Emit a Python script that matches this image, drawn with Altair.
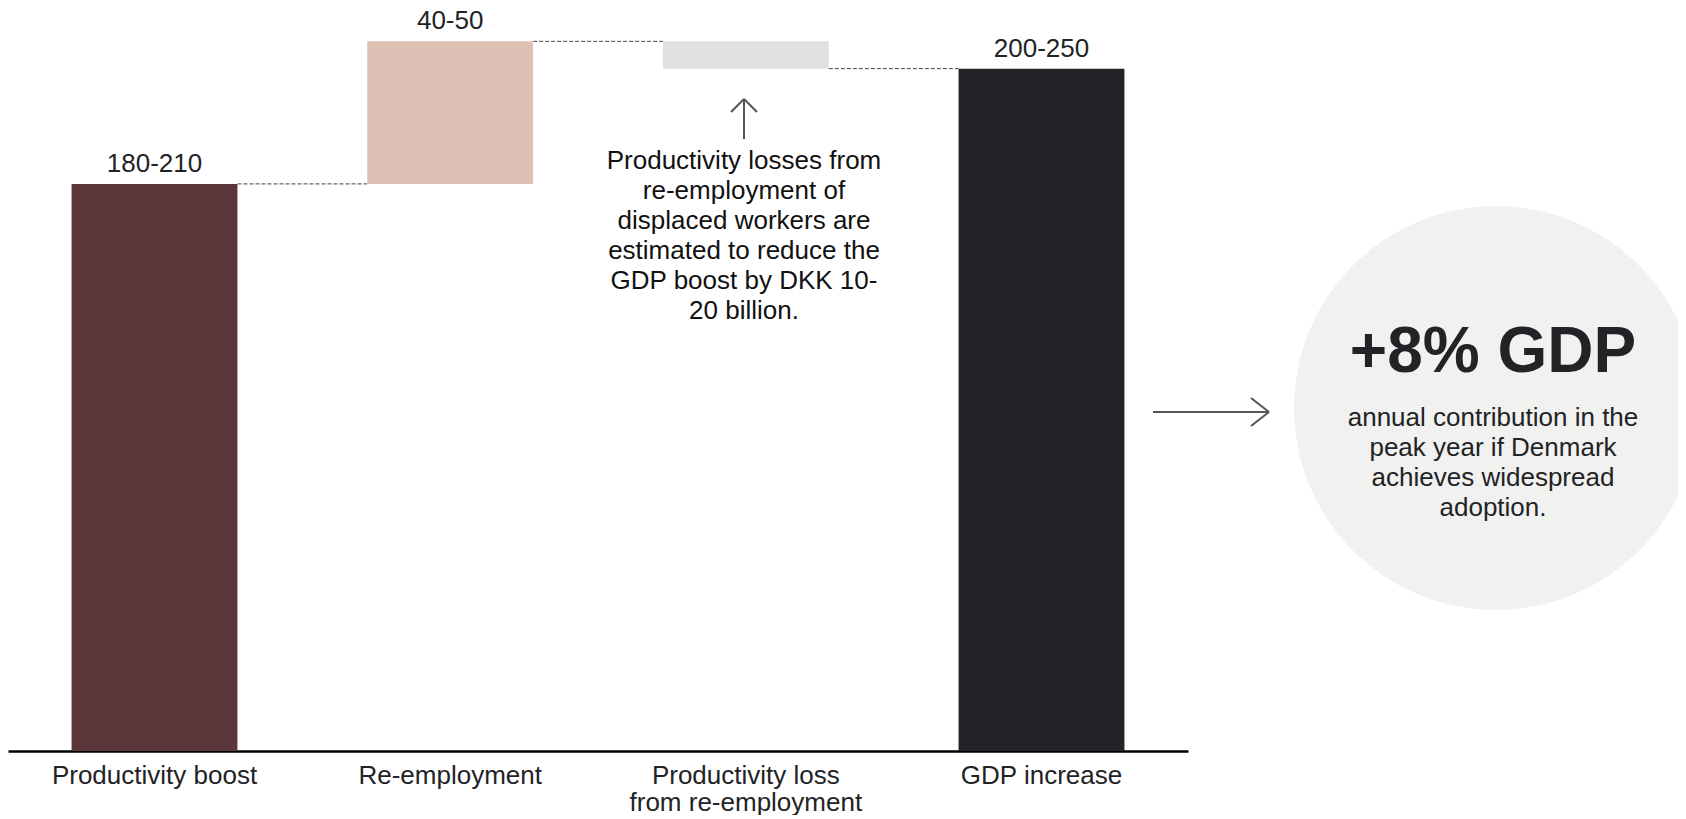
import altair as alt
import pandas as pd

# ---- data ----
categories = ["Productivity boost", "Re-employment",
              "Productivity loss\nfrom re-employment", "GDP increase"]
amounts = [187, 47, -9, 225]          # DKK bn (bar heights, estimated)
kinds = ["start", "delta", "delta", "total"]
value_labels = ["180-210", "40-50", "", "200-250"]
bar_colors = ["#5B373B", "#E0C0B5", "#E1E0DE", "#222326"]

note_lines = ["Productivity losses from", "re-employment of",
              "displaced workers are", "estimated to reduce the",
              "GDP boost by DKK 10-", "20 billion."]
headline = "+8% GDP"
sub_lines = ["annual contribution in the", "peak year if Denmark",
             "achieves widespread", "adoption."]

FONT = "Liberation Sans"
TXT = "#222326"

# ---- build waterfall table ----
rows = []
running = 0
for c, a, k, lab, col in zip(categories, amounts, kinds, value_labels, bar_colors):
    if k == "start":
        s, e = 0, a
    elif k == "delta":
        s, e = running, running + a
    else:
        s, e = 0, a
    running = e
    rows.append(dict(cat=c, start=s, end=e, top=max(s, e), label=lab, color=col))
df = pd.DataFrame(rows)

conn = pd.DataFrame(dict(
    frm=categories[:-1], to=categories[1:],
    level=[r["end"] for r in rows[:-1]],
))

xscale = alt.Scale(domain=categories, range=[0, 1180],
                   paddingInner=0.439, paddingOuter=0.215)
yscale = alt.Scale(domain=[0, 245], range=[743, 0], nice=False, zero=False)

xenc = alt.X("cat:N", sort=categories, scale=xscale, title=None,
             axis=alt.Axis(labelExpr="split(datum.label, '\\n')",
                           labelAngle=0, ticks=False, labelPadding=11,
                           labelFontSize=26, labelLineHeight=27,
                           labelFont=FONT, labelColor=TXT, labelLimit=0,
                           domainColor="#000000", domainWidth=2.5,
                           grid=False, labelBaseline="top"))

base = alt.Chart(df)

bars = base.mark_bar().encode(
    x=xenc,
    y=alt.Y("start:Q", scale=yscale, axis=None),
    y2="end:Q",
    color=alt.Color("color:N", scale=None),
)

labels = base.mark_text(font=FONT, fontSize=26, color=TXT, dy=-20,
                        baseline="middle").encode(
    x=alt.X("cat:N", sort=categories, scale=xscale),
    y=alt.Y("top:Q", scale=yscale),
    text="label:N",
)

connectors = alt.Chart(conn).mark_rule(
    color="#444444", strokeWidth=1, strokeDash=[4, 2],
    xOffset=83, x2Offset=-83
).encode(
    x=alt.X("frm:N", sort=categories, scale=xscale),
    x2="to:N",
    y=alt.Y("level:Q", scale=yscale),
)

# ---- annotations ----
ann = alt.Chart(pd.DataFrame({"t": ["\n".join(note_lines)]}))
note = ann.mark_text(font=FONT, fontSize=26, lineHeight=30, color="#111111",
                     align="center", baseline="middle", lineBreak="\n").encode(
    x=alt.value(736), y=alt.value(153), text="t:N")

arrow_style = dict(color="#555555", strokeWidth=2)
up_shaft = ann.mark_rule(**arrow_style).encode(
    x=alt.value(736), y=alt.value(91), y2=alt.value(131))
up_l = ann.mark_rule(**arrow_style).encode(
    x=alt.value(723), y=alt.value(104), x2=alt.value(736), y2=alt.value(91))
up_r = ann.mark_rule(**arrow_style).encode(
    x=alt.value(749), y=alt.value(104), x2=alt.value(736), y2=alt.value(91))

right_shaft = ann.mark_rule(**arrow_style).encode(
    x=alt.value(1145), x2=alt.value(1261), y=alt.value(404))
right_u = ann.mark_rule(**arrow_style).encode(
    x=alt.value(1243), y=alt.value(390), x2=alt.value(1261), y2=alt.value(404))
right_d = ann.mark_rule(**arrow_style).encode(
    x=alt.value(1243), y=alt.value(418), x2=alt.value(1261), y2=alt.value(404))

circle = ann.mark_circle(size=404 * 404, color="#F1F1EF", opacity=1).encode(
    x=alt.value(1488), y=alt.value(400))

head = ann.mark_text(font=FONT, fontSize=64, fontWeight="bold", color=TXT,
                     align="center", baseline="middle").encode(
    x=alt.value(1485), y=alt.value(345), text=alt.value(headline))

sub = alt.Chart(pd.DataFrame({"t": ["\n".join(sub_lines)]})).mark_text(
    font=FONT, fontSize=26, lineHeight=30, color=TXT,
    align="center", baseline="middle", lineBreak="\n").encode(
    x=alt.value(1485), y=alt.value(410), text="t:N")

chart = alt.layer(
    circle, bars, connectors, labels, note, up_shaft, up_l, up_r,
    right_shaft, right_u, right_d, head, sub
).properties(
    width=1670, height=743,
    autosize=alt.AutoSizeParams(type="none"),
    padding={"left": 0, "top": 0, "right": 0, "bottom": 64},
    background="white",
).configure_view(stroke=None)

chart.save("out.html", embed_options={"renderer": "svg", "actions": False})
